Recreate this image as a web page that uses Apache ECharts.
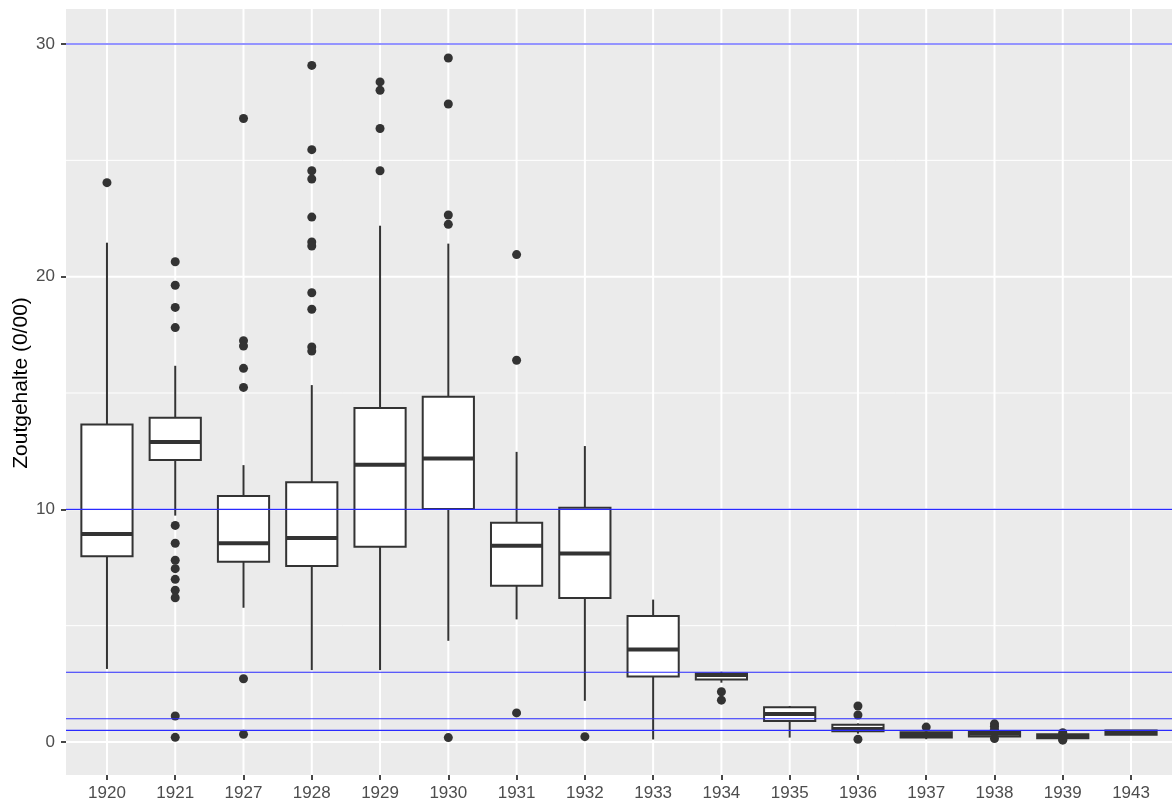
<!DOCTYPE html>
<html>
<head>
<meta charset="utf-8">
<script src="https://cdn.jsdelivr.net/npm/echarts@6/dist/echarts.min.js"></script>
<style>
  html, body { margin: 0; padding: 0; background: #ffffff; }
  #chart { width: 1172px; height: 803px; }
</style>
</head>
<body>
<div id="chart"></div>
<script>
// Salt content per year: box statistics (whisker low, Q1, median, Q3, whisker high)
const years = ['1920','1921','1927','1928','1929','1930','1931','1932','1933','1934','1935','1936','1937','1938','1939','1943'];
const whiskerLow  = [3.14, 9.73, 5.77, 3.09, 3.09, 4.35, 5.27, 1.77, 0.11, 2.55, 0.19, 0.36, 0.12, 0.20, 0.14, 0.30];
const q1          = [7.98, 12.12, 7.75, 7.56, 8.39, 10.01, 6.72, 6.19, 2.82, 2.69, 0.90, 0.46, 0.19, 0.24, 0.16, 0.31];
const median      = [8.94, 12.89, 8.54, 8.77, 11.92, 12.19, 8.44, 8.10, 3.98, 2.88, 1.20, 0.56, 0.30, 0.35, 0.26, 0.40];
const q3          = [13.65, 13.94, 10.57, 11.16, 14.35, 14.84, 9.42, 10.07, 5.42, 2.94, 1.49, 0.74, 0.42, 0.44, 0.33, 0.49];
const whiskerHigh = [21.46, 16.17, 11.90, 15.34, 22.19, 21.42, 12.47, 12.72, 6.12, 3.02, 1.55, 0.80, 0.45, 0.52, 0.36, 0.50];

// Outlying measurements per year
const outliers = [
  [24.04],
  [20.64, 19.63, 18.68, 17.81, 9.31, 8.54, 7.81, 7.45, 6.99, 6.52, 6.20, 1.12, 0.20],
  [26.80, 17.25, 17.02, 16.06, 15.24, 2.72, 0.33],
  [29.08, 25.46, 24.55, 24.20, 22.56, 21.49, 21.32, 19.31, 18.60, 16.98, 16.80],
  [28.37, 28.01, 26.37, 24.55],
  [29.40, 27.42, 22.65, 22.25, 0.19],
  [20.95, 16.41, 1.25],
  [0.23],
  [],
  [2.16, 1.80],
  [],
  [1.55, 1.16, 0.12],
  [0.64],
  [0.78, 0.68, 0.55, 0.15],
  [0.40, 0.33, 0.12, 0.08],
  []
];

// Reference levels
const referenceLevels = [30, 10, 3, 1, 0.5];
const yTicks = [0, 10, 20, 30];
const yMinorTicks = [5, 15, 25];

const FONT = "'Liberation Sans', Arial, Helvetica, sans-serif";
const INK = '#333333';

const boxData = years.map((y, i) => [i, whiskerLow[i], q1[i], median[i], q3[i], whiskerHigh[i]]);
const outlierData = [];
outliers.forEach((vals, i) => vals.forEach(v => outlierData.push([i, v])));
const xIndex = years.map((y, i) => i);

function renderBox(params, api) {
  const x = api.value(0);
  const lo = api.coord([x, api.value(1)]);
  const b1 = api.coord([x, api.value(2)]);
  const md = api.coord([x, api.value(3)]);
  const b3 = api.coord([x, api.value(4)]);
  const hi = api.coord([x, api.value(5)]);
  const half = api.size([0.75, 0])[0] / 2;
  const cx = lo[0];
  const stroke = { stroke: INK, lineWidth: 2 };
  return {
    type: 'group',
    children: [
      { type: 'line', shape: { x1: cx, y1: lo[1], x2: cx, y2: b1[1] }, style: stroke },
      { type: 'line', shape: { x1: cx, y1: b3[1], x2: cx, y2: hi[1] }, style: stroke },
      { type: 'rect', shape: { x: cx - half, y: b3[1], width: half * 2, height: b1[1] - b3[1] },
        style: { fill: '#ffffff', stroke: INK, lineWidth: 2 } },
      { type: 'line', shape: { x1: cx - half, y1: md[1], x2: cx + half, y2: md[1] },
        style: { stroke: INK, lineWidth: 4 } }
    ]
  };
}

// Horizontal rule across the whole panel at the item's y value
function hRule(color, width) {
  return function (params, api) {
    const cs = params.coordSys;
    const y = api.coord([0, api.value(1)])[1];
    return { type: 'line', shape: { x1: cs.x, y1: y, x2: cs.x + cs.width, y2: y },
             style: { stroke: color, lineWidth: width } };
  };
}
// Vertical rule across the whole panel at the item's x value
function vRule(color, width) {
  return function (params, api) {
    const cs = params.coordSys;
    const x = api.coord([api.value(0), 0])[0];
    return { type: 'line', shape: { x1: x, y1: cs.y, x2: x, y2: cs.y + cs.height },
             style: { stroke: color, lineWidth: width } };
  };
}

const chart = echarts.init(document.getElementById('chart'), null, { renderer: 'canvas' });
chart.setOption({
  animation: false,
  backgroundColor: '#ffffff',
  grid: {
    left: 66, top: 9, width: 1106, height: 766,
    outerBoundsMode: 'none',
    containLabel: false,
    show: true, backgroundColor: '#EBEBEB', borderWidth: 0
  },
  xAxis: {
    type: 'value',
    min: -0.6, max: 15.6,
    axisLine: { show: false, onZero: false },
    splitLine: { show: false },
    axisTick: { show: true, length: 5, customValues: xIndex, lineStyle: { color: INK, width: 1.8 } },
    axisLabel: {
      customValues: xIndex,
      margin: 10,
      formatter: v => years[Math.round(v)],
      color: '#4D4D4D', fontSize: 17, fontFamily: FONT
    }
  },
  yAxis: {
    type: 'value',
    min: -1.418, max: 31.504,
    name: 'Zoutgehalte (0/00)',
    nameLocation: 'middle',
    nameGap: 34,
    nameMoveOverlap: false,
    nameTextStyle: { color: '#000000', fontSize: 21, fontFamily: FONT, padding: [0, 0, 0, 18] },
    axisLine: { show: false, onZero: false },
    splitLine: { show: false },
    axisTick: { show: true, length: 5, customValues: yTicks, lineStyle: { color: INK, width: 1.8 } },
    axisLabel: {
      customValues: yTicks,
      margin: 11,
      color: '#4D4D4D', fontSize: 17, fontFamily: FONT
    }
  },
  series: [
    {
      type: 'custom', silent: true, z: 1, clip: false,
      renderItem: hRule('#ffffff', 1),
      data: yMinorTicks.map(v => [0, v])
    },
    {
      type: 'custom', silent: true, z: 1, clip: false,
      renderItem: hRule('#ffffff', 2),
      data: yTicks.map(v => [0, v])
    },
    {
      type: 'custom', silent: true, z: 1, clip: false,
      renderItem: vRule('#ffffff', 2),
      data: xIndex.map(i => [i, 0])
    },
    {
      type: 'custom',
      renderItem: renderBox,
      data: boxData,
      encode: { x: 0, y: [1, 2, 3, 4, 5] },
      z: 3,
      silent: true
    },
    {
      type: 'scatter',
      data: outlierData,
      symbol: 'circle',
      symbolSize: 9,
      itemStyle: { color: INK, opacity: 1 },
      z: 4,
      silent: true
    },
    {
      type: 'custom', silent: true, z: 10, clip: false,
      renderItem: hRule('#2a2aff', 1.1),
      data: referenceLevels.map(v => [0, v])
    }
  ]
});
</script>
</body>
</html>
